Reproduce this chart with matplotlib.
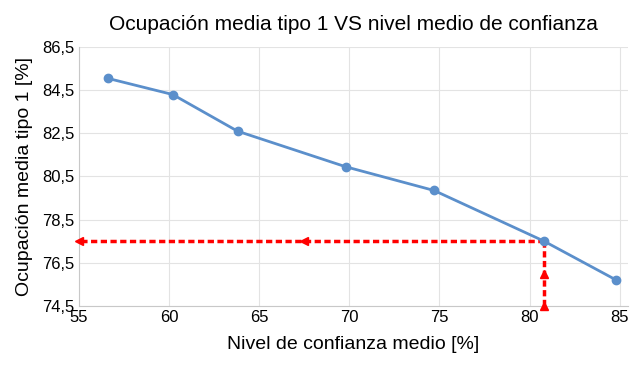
import matplotlib
matplotlib.use('Agg')
import matplotlib.pyplot as plt

plt.rcParams['font.family'] = ['Liberation Sans', 'DejaVu Sans']

# datos
confianza = [56.6, 60.2, 63.8, 69.8, 74.7, 80.8, 84.8]
ocupacion = [85.05, 84.3, 82.6, 80.95, 79.85, 77.5, 75.7]

# punto de lectura (líneas rojas)
x_lect = 80.8
y_lect = 77.5
flechas_h = [55.0, 67.5]
flechas_v = [74.5, 76.0]

xticks = [55, 60, 65, 70, 75, 80, 85]
yticks = [74.5, 76.5, 78.5, 80.5, 82.5, 84.5, 86.5]

fig = plt.figure(figsize=(6.42, 3.65), dpi=100)
ax = fig.add_axes([0.123, 0.162, 0.855, 0.709])

ax.plot(confianza, ocupacion, color='#5b8fcb', linewidth=2, marker='o',
        markersize=6, zorder=3)

# líneas rojas punteadas
ax.plot([x_lect, 55], [y_lect, y_lect], color='red', linewidth=2.5,
        linestyle=(0, (1.8, 1.0)), zorder=2, clip_on=False)
ax.plot([x_lect, x_lect], [y_lect, 74.5], color='red', linewidth=2.5,
        linestyle=(0, (1.8, 1.0)), zorder=2, clip_on=False)
ax.plot(flechas_h, [y_lect] * len(flechas_h), linestyle='none', marker='<',
        color='red', markersize=6, zorder=4, clip_on=False)
ax.plot([x_lect] * len(flechas_v), flechas_v, linestyle='none', marker='^',
        color='red', markersize=6, zorder=4, clip_on=False)

ax.set_xlim(55, 85.45)
ax.set_ylim(74.5, 86.5)
ax.set_xticks(xticks)
ax.set_yticks(yticks)
ax.set_yticklabels([f'{v:.1f}'.replace('.', ',') for v in yticks])
ax.tick_params(labelsize=12, length=0, pad=3)

ax.grid(True, color='#e3e3e3', linewidth=0.8)
ax.set_axisbelow(True)
for s in ['top', 'right']:
    ax.spines[s].set_visible(False)
for s in ['left', 'bottom']:
    ax.spines[s].set_color('#c8c8c8')

ax.set_title('Ocupación media tipo 1 VS nivel medio de confianza',
             fontsize=15, pad=12)
ax.set_xlabel('Nivel de confianza medio [%]', fontsize=14, labelpad=8)
ax.set_ylabel('Ocupación media tipo 1 [%]', fontsize=14, labelpad=7)

fig.savefig('out.png', dpi=100)
